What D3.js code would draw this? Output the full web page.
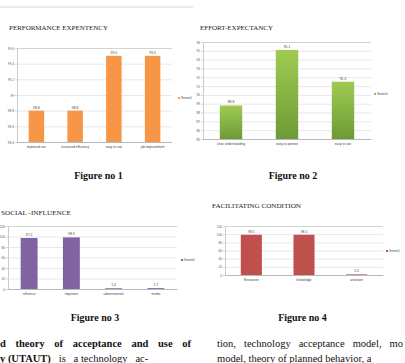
<!DOCTYPE html>
<html>
<head>
<meta charset="utf-8">
<script src="https://cdn.jsdelivr.net/npm/d3@7"></script>
<style>
  body { margin: 0; background: #fff; }
  svg { display: block; }
</style>
</head>
<body>
<svg width="405" height="363"></svg>
<script>
// chart values
var perfCats = ["improved use", "increased efficiency", "easy to use", "job improvement"];
var perfVals = [98.8, 98.8, 99.5, 99.5];
var perfTicks = [98.4, 98.6, 98.8, 99, 99.2, 99.4, 99.6];

var effortCats = ["clear understanding", "easy to operate", "easy to use"];
var effortVals = [88.8, 95.1, 91.5];
var effortTicks = [85, 86, 87, 88, 89, 90, 91, 92, 93, 94, 95, 96];

var socialCats = ["influence", "important", "advertisement", "media"];
var socialVals = [97.2, 98.3, 1.4, 1.7];
var socialTicks = [0, 20, 40, 60, 80, 100, 120];

var facCats = ["Resources", "knowledge", "assistant"];
var facVals = [98.5, 98.5, 1.5];
var facTicks = [0, 20, 40, 60, 80, 100, 120];

var svg = d3.select("svg");
var serif = "'Liberation Serif', 'DejaVu Serif', serif";
var sans = "'Liberation Sans', Arial, sans-serif";

// green gradient for figure 2
var defs = svg.append("defs");
var grad = defs.append("linearGradient").attr("id", "green")
    .attr("x1", 0).attr("y1", 0).attr("x2", 0).attr("y2", 1);
grad.append("stop").attr("offset", "0%").attr("stop-color", "#9fcb52");
grad.append("stop").attr("offset", "100%").attr("stop-color", "#6e9a36");

// top rule
svg.append("line").attr("x1", 0).attr("x2", 193).attr("y1", 7).attr("y2", 7)
   .attr("stroke", "#d8d8d8").attr("stroke-width", 1);

function drawChart(c) {
    var x = d3.scaleBand().domain(c.cats).range([c.left, c.right])
              .paddingInner(0.6).paddingOuter(0.3);
    var y = d3.scaleLinear().domain([c.ticks[0], c.ticks[c.ticks.length - 1]])
              .range([c.bottom, c.top]);

    var g = svg.append("g");

    // gridlines + y axis
    var ax = g.append("g").attr("transform", "translate(" + c.left + ",0)")
        .call(d3.axisLeft(y).tickValues(c.ticks).tickSize(-(c.right - c.left)).tickPadding(3)
              .tickFormat(function(d) { return d; }));
    ax.select(".domain").attr("stroke", "#a6a6a6").attr("stroke-width", 0.6);
    ax.selectAll(".tick line").attr("stroke", "#d9d9d9").attr("stroke-width", 0.6);
    ax.selectAll(".tick text").attr("font-size", "3.2px").attr("font-family", sans).attr("fill", "#595959");
    // small outer tick marks
    ax.selectAll(".tick").append("line").attr("x1", -2).attr("x2", 0)
      .attr("stroke", "#a6a6a6").attr("stroke-width", 0.5);

    // x axis
    var bx = g.append("g").attr("transform", "translate(0," + c.bottom + ")")
        .call(d3.axisBottom(x).tickSize(0).tickPadding(4));
    bx.select(".domain").attr("stroke", "#a6a6a6").attr("stroke-width", 0.6);
    bx.selectAll(".tick text").attr("font-size", "3.2px").attr("font-family", sans).attr("fill", "#404040");

    // bars
    g.selectAll(".bar").data(c.vals).enter().append("rect")
        .attr("x", function(d, i) { return x(c.cats[i]); })
        .attr("y", function(d) { return y(d); })
        .attr("width", x.bandwidth())
        .attr("height", function(d) { return c.bottom - y(d); })
        .attr("fill", c.color);

    // value labels
    g.selectAll(".lbl").data(c.vals).enter().append("text")
        .attr("x", function(d, i) { return x(c.cats[i]) + x.bandwidth() / 2; })
        .attr("y", function(d) { return y(d) - 2; })
        .attr("text-anchor", "middle")
        .attr("font-size", "3.4px").attr("font-family", sans).attr("fill", "#404040")
        .text(function(d) { return d; });

    // legend
    svg.append("rect").attr("x", c.legX).attr("y", c.legY - 2).attr("width", 2).attr("height", 2)
       .attr("fill", c.legColor);
    svg.append("text").attr("x", c.legX + 3).attr("y", c.legY)
       .attr("font-size", "3.2px").attr("font-family", sans).attr("fill", "#404040").text("Series1");

    // title
    svg.append("text").attr("x", c.titleX).attr("y", c.titleY)
       .attr("font-size", c.titleSize).attr("font-family", serif).attr("fill", "#222")
       .attr("textLength", c.titleW).attr("lengthAdjust", "spacingAndGlyphs")
       .text(c.title);

    // caption
    svg.append("text").attr("x", c.capX).attr("y", c.capY)
       .attr("font-size", "10px").attr("font-weight", "bold").attr("font-family", serif)
       .attr("fill", "#111").attr("text-anchor", "middle").text(c.caption);
}

drawChart({ cats: perfCats, vals: perfVals, ticks: perfTicks, color: "#f79646", legColor: "#f79646",
    left: 17, right: 172, top: 48, bottom: 142, legX: 178, legY: 99,
    title: "PERFORMANCE  EXPENTENCY", titleX: 9, titleY: 30, titleSize: "7px", titleW: 99,
    caption: "Figure no 1", capX: 98.5, capY: 179 });

drawChart({ cats: effortCats, vals: effortVals, ticks: effortTicks, color: "url(#green)", legColor: "#8fbb4b",
    left: 203, right: 371, top: 42, bottom: 139, legX: 374, legY: 95,
    title: "EFFORT-EXPECTANCY", titleX: 200, titleY: 30, titleSize: "7px", titleW: 73,
    caption: "Figure no 2", capX: 293, capY: 179 });

drawChart({ cats: socialCats, vals: socialVals, ticks: socialTicks, color: "#8064a2", legColor: "#8064a2",
    left: 8, right: 177, top: 226, bottom: 289, legX: 181, legY: 261,
    title: "SOCIAL -INFLUENCE", titleX: 1, titleY: 215, titleSize: "6.5px", titleW: 70,
    caption: "Figure no 3", capX: 95, capY: 321 });

drawChart({ cats: facCats, vals: facVals, ticks: facTicks, color: "#c0504d", legColor: "#c0504d",
    left: 225, right: 383, top: 226, bottom: 275, legX: 386, legY: 252,
    title: "FACILITATING CONDITION", titleX: 212, titleY: 208, titleSize: "6.5px", titleW: 89,
    caption: "Figure no 4", capX: 302.5, capY: 321 });

// body text under the figures, justified by widening the word gaps
function justify(t, width) {
    var words = t.text().split(" ").length - 1;
    var w = t.node().getComputedTextLength();
    if (words > 0 && w < width) t.attr("word-spacing", ((width - w) / words) + "px");
}
var body = svg.append("g").attr("font-family", serif).attr("font-size", "10.5px").attr("fill", "#111");
var l1 = body.append("text").attr("x", 0).attr("y", 347).attr("font-weight", "bold")
    .text("d theory of acceptance and use of");
justify(l1, 191);
var l2 = body.append("text").attr("x", 0).attr("y", 362);
l2.append("tspan").attr("font-weight", "bold").text("y (UTAUT)");
l2.append("tspan").attr("xml:space", "preserve").text("   is   a technology   ac-");
var r1 = body.append("text").attr("x", 217).attr("y", 347)
    .text("tion, technology acceptance model, mo");
justify(r1, 186);
body.append("text").attr("x", 217).attr("y", 362)
    .text("model, theory of planned behavior, a");
</script>
</body>
</html>
